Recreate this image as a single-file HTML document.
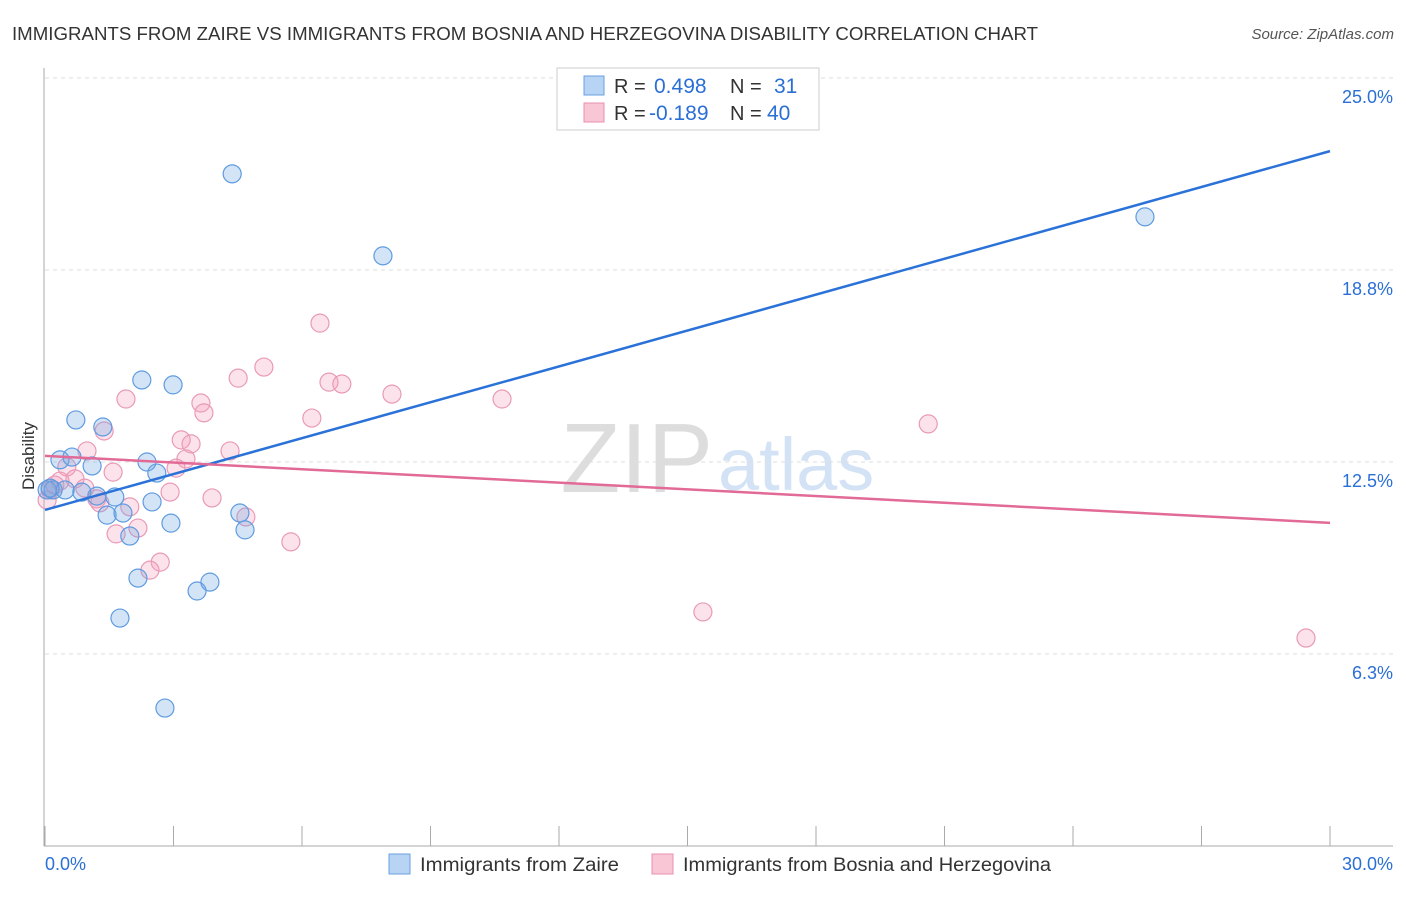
<!DOCTYPE html>
<html><head><meta charset="utf-8"><style>
body{margin:0;background:#fff;font-family:"Liberation Sans",sans-serif}
svg text{font-family:"Liberation Sans",sans-serif}
</style></head><body>
<svg id="c" width="1406" height="892">
<text x="12" y="40" font-size="18" fill="#333" textLength="1026" lengthAdjust="spacingAndGlyphs">IMMIGRANTS FROM ZAIRE VS IMMIGRANTS FROM BOSNIA AND HERZEGOVINA DISABILITY CORRELATION CHART</text>
<text x="1394" y="39" font-size="15" fill="#555" font-style="italic" text-anchor="end">Source: ZipAtlas.com</text>
<text x="713" y="492" font-size="98" fill="#ddd" text-anchor="end" font-family="Liberation Serif">ZIP</text>
<text x="718" y="490" font-size="74" fill="#d3e3f5">atlas</text>
<text x="34" y="456" font-size="17" fill="#333" text-anchor="middle" transform="rotate(-90 34 456)">Disability</text>
<g id="grid"></g><g id="pts"></g><g id="lines"></g>
<g>
<rect x="557" y="68" width="262" height="62" fill="#fff" stroke="#ccc"/>
<rect x="584" y="76" width="20" height="19" fill="#b8d4f5" stroke="#6aa0e0"/>
<rect x="584" y="103" width="20" height="19" fill="#f9c6d5" stroke="#e890b0"/>
<text x="614" y="93" font-size="20" fill="#333">R = <tspan fill="#2a6fd6" x="654" font-size="21">0.498</tspan><tspan x="730">N = </tspan><tspan fill="#2a6fd6" x="774" font-size="21">31</tspan></text>
<text x="614" y="120" font-size="20" fill="#333">R = <tspan fill="#2a6fd6" x="649" font-size="21">-0.189</tspan><tspan x="730">N = </tspan><tspan fill="#2a6fd6" x="767" font-size="21">40</tspan></text>
</g>
<g>
<rect x="389" y="854" width="21" height="20" fill="#b8d4f5" stroke="#6aa0e0"/>
<text x="420" y="871" font-size="19" fill="#333" textLength="199" lengthAdjust="spacingAndGlyphs">Immigrants from Zaire</text>
<rect x="652" y="854" width="21" height="20" fill="#f9c6d5" stroke="#e890b0"/>
<text x="683" y="871" font-size="19" fill="#333" textLength="368" lengthAdjust="spacingAndGlyphs">Immigrants from Bosnia and Herzegovina</text>
</g>
</svg>
<script>
const yTicks=[6.25,12.5,18.75,25];
const yTickLabels=["6.3%","12.5%","18.8%","25.0%"];
const xTickVals=[0,3,6,9,12,15,18,21,24,27,30];
const zaireX=[4.37,7.89,25.68,2.26,2.99,0.72,1.35,0.35,0.63,1.10,2.38,2.61,0.19,0.05,0.86,1.21,1.63,2.50,1.45,1.82,2.94,4.55,4.67,1.98,2.17,3.55,3.85,1.75,2.80,0.12,0.47];
const zaireY=[21.88,19.21,20.48,15.17,15.01,13.87,13.64,12.57,12.66,12.37,12.50,12.14,11.59,11.59,11.52,11.39,11.36,11.20,10.77,10.84,10.51,10.84,10.29,10.09,8.72,8.30,8.59,7.42,4.49,11.65,11.59];
const bosniaX=[6.42,5.11,4.51,6.63,6.93,8.10,10.67,1.89,3.64,3.71,6.23,1.38,20.62,3.18,3.41,0.98,4.32,3.29,3.06,1.59,0.51,0.70,0.35,2.92,0.12,1.21,3.90,1.28,1.98,4.69,2.17,1.66,5.74,2.69,2.45,15.36,29.44,0.05,0.23,0.93];
const bosniaY=[17.02,15.59,15.23,15.10,15.04,14.71,14.55,14.55,14.42,14.10,13.93,13.51,13.74,13.22,13.09,12.86,12.86,12.60,12.30,12.17,12.34,11.95,11.88,11.52,11.59,11.30,11.33,11.17,11.04,10.71,10.35,10.16,9.90,9.24,8.98,7.62,6.77,11.26,11.75,11.65];
const zaireLine=[10.94,22.62];
const bosniaLine=[12.70,10.52];
const X=v=>45+v*(1285/30), Y=v=>846-v*30.72;
const NS="http://www.w3.org/2000/svg";
function mk(t,a,p){const e=document.createElementNS(NS,t);for(const k in a)e.setAttribute(k,a[k]);p.appendChild(e);return e;}
const g=document.getElementById('grid');
yTicks.forEach((v,i)=>{
 const l=mk('line',{x1:45,x2:1393,y1:Y(v),y2:Y(v),stroke:'#ddd','stroke-dasharray':'4 4'},g);
 
 
 const t=mk('text',{x:1393,y:Y(v)+25,'font-size':18,fill:'#2a6fd6','text-anchor':'end'},g);t.textContent=yTickLabels[i];
 
 
});
mk('line',{x1:44,x2:44,y1:68,y2:846,stroke:'#aaa'},g);
mk('line',{x1:44,x2:1393,y1:846,y2:846,stroke:'#aaa'},g);
xTickVals.forEach(v=>{const t=mk('line',{x1:X(v),x2:X(v),y1:826,y2:846,stroke:'#aaa'},g);
 
 });
let t0=mk('text',{x:45,y:870,'font-size':18,fill:'#2a6fd6'},g);t0.textContent="0.0%";


let t1=mk('text',{x:1393,y:870,'font-size':18,fill:'#2a6fd6','text-anchor':'end'},g);t1.textContent="30.0%";


const p=document.getElementById('pts');
bosniaX.forEach((x,i)=>{const c=mk('circle',{cx:X(x),cy:Y(bosniaY[i]),r:9,fill:'rgba(244,160,188,0.3)',stroke:'#e99ab6','stroke-width':1.2},p);
 
 });
zaireX.forEach((x,i)=>{const c=mk('circle',{cx:X(x),cy:Y(zaireY[i]),r:9,fill:'rgba(110,165,230,0.3)',stroke:'#5f9be0','stroke-width':1.2},p);
 
 });
const L=document.getElementById('lines');
const a=mk('line',{x1:X(0),x2:X(30),y1:Y(zaireLine[0]),y2:Y(zaireLine[1]),stroke:'#2a72d8','stroke-width':2.5},L);


const b=mk('line',{x1:X(0),x2:X(30),y1:Y(bosniaLine[0]),y2:Y(bosniaLine[1]),stroke:'#e26a96','stroke-width':2.5},L);


</script>
</body></html>
